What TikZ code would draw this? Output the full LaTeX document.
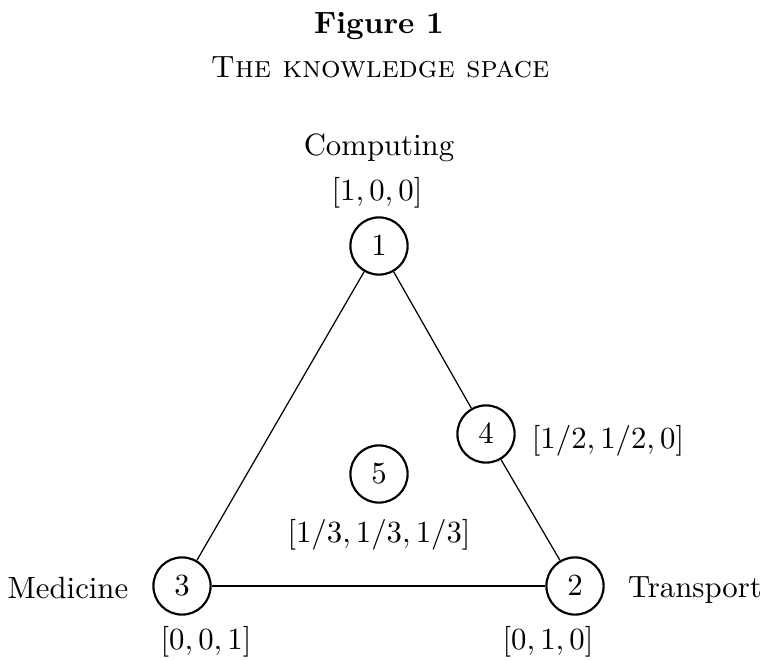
\documentclass[tikz,border=0pt]{standalone}
\begin{document}
\begin{tikzpicture}[x=0.325pt,y=-0.325pt,
  vertex/.style={circle,draw,line width=0.7pt,minimum size=18.6pt,inner sep=0pt},
  lbl/.style={anchor=base,inner sep=0pt},
  edge/.style={line width=0.4pt}]
\useasboundingbox (0,0) rectangle (764,661);
\node[lbl,font=\bfseries] (title) at (379,33) {Figure 1};
\node[lbl,font=\scshape] (sub) at (380,78) {The knowledge space};

\node[vertex] (n1) at (379,246) {$1$};
\node[vertex] (n4) at (486,434) {$4$};
\node[vertex] (n5) at (379,474) {$5$};
\node[vertex] (n3) at (182,586) {$3$};
\node[vertex] (n2) at (575,586) {$2$};

\draw[edge] (n1) -- (n3);
\draw[edge] (n1) -- (n4);
\draw[edge] (n4) -- (n2);
\draw[edge] (n3) -- (n2);

\node[lbl] (lc) at (379,155) {Computing};
\node[lbl] (l1) at (377,200) {$[1,0,0]$};
\node[lbl] (l4) at (608,448) {$[1/2,1/2,0]$};
\node[lbl] (l5) at (379,542) {$[1/3,1/3,1/3]$};
\node[lbl] (lm) at (68,598) {Medicine};
\node[lbl] (l3) at (206,649) {$[0,0,1]$};
\node[lbl] (lt) at (695,597) {Transport};
\node[lbl] (l2) at (548,649) {$[0,1,0]$};
\end{tikzpicture}
\end{document}
